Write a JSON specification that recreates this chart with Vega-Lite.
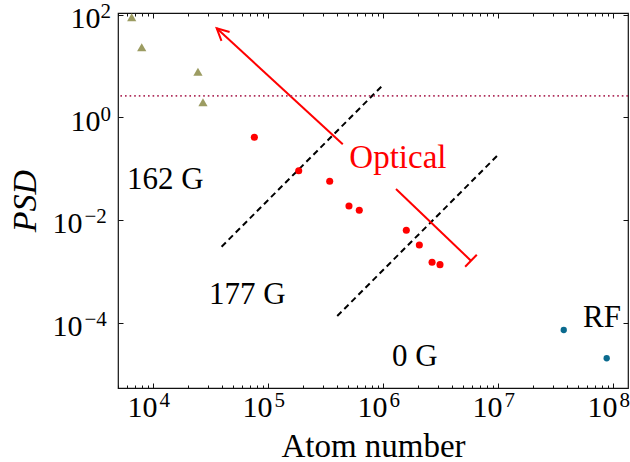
{
  "$schema": "https://vega.github.io/schema/vega-lite/v6.json",
  "width": 510,
  "height": 375,
  "autosize": {"type": "none"},
  "padding": {"left": 118, "top": 13, "right": 2, "bottom": 74},
  "background": "white",
  "config": {
    "view": {"stroke": "#111111", "strokeWidth": 1.2},
    "font": "Liberation Serif",
    "axis": {
      "domain": false,
      "grid": false,
      "tickColor": "#111111",
      "tickWidth": 1,
      "labelFont": "Liberation Serif",
      "labelFontSize": 30,
      "labelColor": "#000000",
      "titleFont": "Liberation Serif",
      "titleFontSize": 33,
      "titleFontWeight": "normal",
      "titleColor": "#000000",
      "labelOverlap": false,
      "labelFlush": false,
      "labelBound": false
    }
  },
  "datasets": {
    "trap": [
      {"N": 6530, "PSD": 88.6},
      {"N": 7980, "PSD": 23.1},
      {"N": 24600, "PSD": 7.73},
      {"N": 27200, "PSD": 1.96}
    ],
    "optical": [
      {"N": 76100, "PSD": 0.408},
      {"N": 185000, "PSD": 0.0912},
      {"N": 344000, "PSD": 0.0567},
      {"N": 506000, "PSD": 0.01874},
      {"N": 622000, "PSD": 0.01545},
      {"N": 1595000, "PSD": 0.0063},
      {"N": 2070000, "PSD": 0.00326},
      {"N": 2670000, "PSD": 0.0015},
      {"N": 3130000, "PSD": 0.00135}
    ],
    "rf": [
      {"N": 37300000, "PSD": 0.0000721},
      {"N": 88100000, "PSD": 0.0000203}
    ],
    "guides": [
      {"guide": "177 G", "N": 39500, "PSD": 0.00302},
      {"guide": "177 G", "N": 1000000, "PSD": 4.26},
      {"guide": "0 G", "N": 400000, "PSD": 0.000135},
      {"guide": "0 G", "N": 10000000, "PSD": 0.1845}
    ],
    "arrows": [
      {"arrow": "trend", "end": "tail", "N": 447000, "PSD": 0.298},
      {"arrow": "trend", "end": "tip", "N": 35800, "PSD": 54.1},
      {"arrow": "limit", "end": "tail", "N": 1297000, "PSD": 0.0402},
      {"arrow": "limit", "end": "tip", "N": 5820000, "PSD": 0.00161}
    ],
    "bec": [{"PSD": 2.612}],
    "labels": [
      {"label": "162 G", "kind": "field", "N": 5940, "PSD": 0.0402},
      {"label": "177 G", "kind": "field", "N": 30700, "PSD": 0.000231},
      {"label": "0 G", "kind": "field", "N": 1200000, "PSD": 0.0000144},
      {"label": "RF", "kind": "field", "N": 54900000, "PSD": 0.0000824},
      {"label": "Optical", "kind": "optical", "N": 510000, "PSD": 0.1016}
    ]
  },
  "layer": [
    {
      "encoding": {
        "x": {
          "field": "N",
          "type": "quantitative",
          "scale": {"type": "log", "domain": [4963, 135000000], "nice": false},
          "axis": {
            "orient": "bottom",
            "title": "Atom number",
            "values": [5000, 6000, 7000, 8000, 9000, 10000, 20000, 30000, 40000, 50000, 60000, 70000, 80000, 90000, 100000, 200000, 300000, 400000, 500000, 600000, 700000, 800000, 900000, 1000000, 2000000, 3000000, 4000000, 5000000, 6000000, 7000000, 8000000, 9000000, 10000000, 20000000, 30000000, 40000000, 50000000, 60000000, 70000000, 80000000, 90000000, 100000000],
            "tickSize": {"condition": {"test": "abs(log(datum.value)/LN10 - round(log(datum.value)/LN10)) < 0.001", "value": -5}, "value": -3},
            "labelExpr": "abs(log(datum.value)/LN10 - round(log(datum.value)/LN10)) < 0.001 ? '10' : ''",
            "labelOffset": -11,
            "labelPadding": 9,
            "titlePadding": 6
          }
        },
        "y": {
          "field": "PSD",
          "type": "quantitative",
          "scale": {"type": "log", "domain": [0.00000535, 107.4], "nice": false},
          "axis": {
            "orient": "left",
            "title": "PSD",
            "titleFontStyle": "italic",
            "titleFontSize": 34,
            "values": [0.0001, 0.01, 1, 100],
            "tickSize": -5,
            "labelExpr": "'10'",
            "labelOffset": 4,
            "labelPadding": {"condition": {"test": "datum.value < 0.5", "value": 41}, "value": 23},
            "titlePadding": 10
          }
        }
      },
      "layer": [
        {
          "data": {"name": "guides"},
          "mark": {"type": "line", "color": "#000000", "strokeWidth": 2, "strokeDash": [6, 4]},
          "encoding": {"detail": {"field": "guide"}}
        },
        {
          "data": {"name": "arrows"},
          "mark": {"type": "line", "color": "#ff0000", "strokeWidth": 2},
          "encoding": {"detail": {"field": "arrow"}}
        },
        {
          "data": {"name": "arrows"},
          "transform": [{"filter": "datum.arrow == 'trend' && datum.end == 'tip'"}],
          "mark": {"type": "point", "shape": "M-0.5,1L0,0L0.5,1", "filled": false, "stroke": "#ff0000", "strokeWidth": 2, "size": 576, "angle": 312.6, "opacity": 1}
        },
        {
          "data": {"name": "arrows"},
          "transform": [{"filter": "datum.arrow == 'limit' && datum.end == 'tip'"}],
          "mark": {"type": "point", "shape": "M-1,0L1,0", "filled": false, "stroke": "#ff0000", "strokeWidth": 2, "size": 282, "angle": 314, "opacity": 1}
        },
        {
          "data": {"name": "optical"},
          "mark": {"type": "point", "shape": "circle", "filled": true, "color": "#ff0000", "size": 50, "opacity": 1}
        },
        {
          "data": {"name": "labels"},
          "transform": [{"filter": "datum.kind == 'field'"}],
          "mark": {"type": "text", "align": "left", "baseline": "alphabetic", "font": "Liberation Serif", "fontSize": 31, "color": "#000000"},
          "encoding": {"text": {"field": "label"}}
        },
        {
          "data": {"name": "labels"},
          "transform": [{"filter": "datum.kind == 'optical'"}],
          "mark": {"type": "text", "align": "left", "baseline": "alphabetic", "font": "Liberation Serif", "fontSize": 33, "color": "#ff0000"},
          "encoding": {"text": {"field": "label"}}
        }
      ]
    },
    {
      "data": {"name": "trap"},
      "mark": {"type": "point", "shape": "triangle-up", "filled": true, "color": "#9c9c62", "size": 85, "opacity": 1},
      "encoding": {
        "x": {
          "field": "N",
          "type": "quantitative",
          "scale": {"type": "log", "domain": [4963, 135000000], "nice": false},
          "axis": {
            "orient": "bottom",
            "title": null,
            "ticks": false,
            "values": [10000, 100000, 1000000, 10000000, 100000000],
            "labelExpr": "'' + round(log(datum.value)/LN10)",
            "labelFontSize": 21,
            "labelAlign": "left",
            "labelOffset": 6,
            "labelPadding": 1
          }
        },
        "y": {
          "field": "PSD",
          "type": "quantitative",
          "scale": {"type": "log", "domain": [0.00000535, 107.4], "nice": false},
          "axis": {
            "orient": "left",
            "title": null,
            "ticks": false,
            "values": [0.0001, 0.01, 1, 100],
            "labelExpr": "replace('' + round(log(datum.value)/LN10), '-', '−')",
            "labelFontSize": 21,
            "labelAlign": "left",
            "labelOffset": -3,
            "labelPadding": {"condition": {"test": "datum.value < 0.5", "value": 34}, "value": 18}
          }
        }
      }
    },
    {
      "data": {"name": "bec"},
      "mark": {"type": "rule", "color": "#b0305c", "strokeWidth": 1.6, "strokeDash": [1.6, 3]},
      "encoding": {
        "y": {
          "field": "PSD",
          "type": "quantitative",
          "scale": {"type": "log", "domain": [0.00000535, 107.4], "nice": false},
          "axis": {"orient": "right", "title": null, "labels": false, "values": [0.0001, 0.01, 1, 100], "tickSize": -5}
        }
      }
    },
    {
      "data": {"name": "rf"},
      "mark": {"type": "point", "shape": "circle", "filled": true, "color": "#0a6a8e", "size": 40, "opacity": 1},
      "encoding": {
        "x": {
          "field": "N",
          "type": "quantitative",
          "scale": {"type": "log", "domain": [4963, 135000000], "nice": false},
          "axis": {
            "orient": "top",
            "title": null,
            "labels": false,
            "values": [5000, 6000, 7000, 8000, 9000, 10000, 20000, 30000, 40000, 50000, 60000, 70000, 80000, 90000, 100000, 200000, 300000, 400000, 500000, 600000, 700000, 800000, 900000, 1000000, 2000000, 3000000, 4000000, 5000000, 6000000, 7000000, 8000000, 9000000, 10000000, 20000000, 30000000, 40000000, 50000000, 60000000, 70000000, 80000000, 90000000, 100000000],
            "tickSize": {"condition": {"test": "abs(log(datum.value)/LN10 - round(log(datum.value)/LN10)) < 0.001", "value": -5}, "value": -3}
          }
        },
        "y": {
          "field": "PSD",
          "type": "quantitative",
          "scale": {"type": "log", "domain": [0.00000535, 107.4], "nice": false},
          "axis": null
        }
      }
    }
  ],
  "resolve": {"axis": {"x": "independent", "y": "independent"}}
}
